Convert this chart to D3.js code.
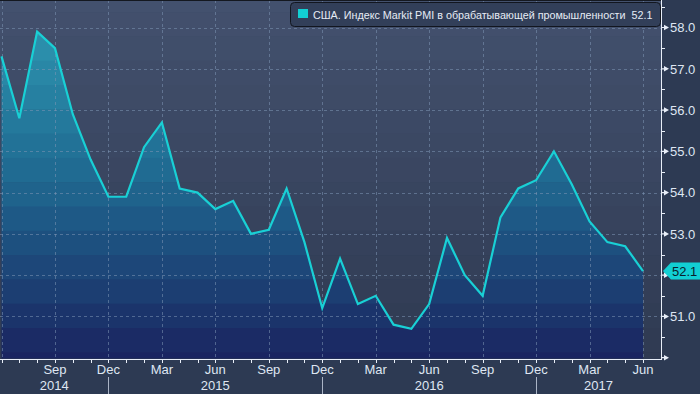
<!DOCTYPE html>
<html><head><meta charset="utf-8">
<script src="https://cdn.jsdelivr.net/npm/d3@7"></script>
<style>html,body{margin:0;padding:0;background:#2d3a53;}svg{display:block;}</style>
</head><body>
<svg id="c" width="700" height="394"></svg>
<script>
const months = ["2014-06","2014-07","2014-08","2014-09","2014-10","2014-11","2014-12",
"2015-01","2015-02","2015-03","2015-04","2015-05","2015-06","2015-07","2015-08","2015-09","2015-10","2015-11","2015-12",
"2016-01","2016-02","2016-03","2016-04","2016-05","2016-06","2016-07","2016-08","2016-09","2016-10","2016-11","2016-12",
"2017-01","2017-02","2017-03","2017-04","2017-05","2017-06"];
const pmi = [57.3,55.8,57.9,57.5,55.9,54.8,53.9,
53.9,55.1,55.7,54.1,54.0,53.6,53.8,53.0,53.1,54.1,52.8,51.2,
52.4,51.3,51.5,50.8,50.7,51.3,52.9,52.0,51.5,53.4,54.1,54.3,
55.0,54.2,53.3,52.8,52.7,52.1];
const monthNames = {"03":"Mar","06":"Jun","09":"Sep","12":"Dec"};
const years = ["2014","2015","2016","2017"];
const yTicks = [50,51,52,53,54,55,56,57,58];
const yLabelTicks = [51,53,54,55,56,57,58];
const yMinor = [50.5,51.5,52.5,53.5,54.5,55.5,56.5,57.5,58.5];
const seriesName = "США. Индекс Markit PMI в обрабатывающей промышленности";
const lastValue = pmi[pmi.length-1];

const svg = d3.select("#c");
const W = 700, H = 394;
const plotR = 661, plotB = 358.5;
const x = d3.scalePoint().domain(months).range([1.5, 643]);
const y = d3.scaleLinear().domain([50, 58]).range([357.7, 27.5]);

svg.append("rect").attr("width",W).attr("height",H).attr("fill","#2d3a53");

// banded backgrounds
const bandH = 24.3;
const bands = [];
for (let b = 328 - bandH*14; b < plotB; b += bandH) bands.push([Math.max(0,b), Math.min(plotB, b+bandH)]);
const bgCol = d3.scaleLinear().domain([0, plotB]).range(["#43516e","#2f3a52"]).interpolate(d3.interpolateRgb);
const fillCol = d3.scaleLinear().domain([0, 180, plotB]).range(["#2f9cb5","#1f6890","#1a2460"]).interpolate(d3.interpolateRgb);

svg.append("g").selectAll("rect").data(bands).join("rect")
  .attr("x",0).attr("width",plotR).attr("y",d=>d[0]).attr("height",d=>d[1]-d[0]+0.5)
  .attr("fill",d=>bgCol((d[0]+d[1])/2));

const area = d3.area().x((d,i)=>x(months[i])).y0(plotB).y1(d=>y(d));
svg.append("clipPath").attr("id","ac").append("path").attr("d", area(pmi));
svg.append("g").attr("clip-path","url(#ac)").selectAll("rect").data(bands).join("rect")
  .attr("x",0).attr("width",plotR).attr("y",d=>d[0]).attr("height",d=>d[1]-d[0]+0.5)
  .attr("fill",d=>fillCol((d[0]+d[1])/2));

// grid
const gridCol = "rgba(125,150,180,0.55)";
const g = svg.append("g");
g.selectAll("line.h").data(yTicks.filter(v=>v>50)).join("line")
  .attr("x1",0).attr("x2",plotR).attr("y1",d=>Math.round(y(d))+0.5).attr("y2",d=>Math.round(y(d))+0.5)
  .attr("stroke",gridCol).attr("stroke-dasharray","3,3");
const gridMonths = months.filter(m=>monthNames[m.slice(5)]);
g.selectAll("line.v").data(gridMonths).join("line")
  .attr("x1",d=>Math.round(x(d))+0.5).attr("x2",d=>Math.round(x(d))+0.5).attr("y1",0).attr("y2",plotB)
  .attr("stroke",gridCol).attr("stroke-dasharray","3,3");

// top dark line
svg.append("line").attr("x1",0).attr("x2",plotR).attr("y1",0.5).attr("y2",0.5).attr("stroke","#141820");

// line
const line = d3.line().x((d,i)=>x(months[i])).y(d=>y(d));
svg.append("path").attr("d", line(pmi)).attr("fill","none").attr("stroke","#19d0d5").attr("stroke-width",2.2).attr("stroke-linejoin","miter");

// x axis
const ax = svg.append("g");
ax.append("line").attr("x1",0).attr("x2",plotR+1).attr("y1",359.5).attr("y2",359.5).attr("stroke","#e8eef8");
ax.selectAll("line.t").data(months).join("line")
  .attr("x1",d=>Math.round(x(d))+0.5).attr("x2",d=>Math.round(x(d))+0.5).attr("y1",359.5).attr("y2",363)
  .attr("stroke","#e8eef8");
const font = "'Liberation Sans', Arial, sans-serif";
ax.selectAll("text.m").data(gridMonths.filter(d=>x(d)>20)).join("text")
  .attr("x",d=>x(d)).attr("y",374).attr("text-anchor","middle")
  .attr("font-family",font).attr("font-size",13).attr("fill","#dfe6f2")
  .text(d=>monthNames[d.slice(5)]);
const decs = months.filter(m=>m.slice(5)==="12");
ax.selectAll("line.sep").data(decs).join("line")
  .attr("x1",d=>Math.round(x(d))+0.5).attr("x2",d=>Math.round(x(d))+0.5).attr("y1",377).attr("y2",394)
  .attr("stroke","#aab4c6");
const seps = [0, ...decs.map(d=>x(d)), plotR];
ax.selectAll("text.y").data(years).join("text")
  .attr("x",(d,i)=>(seps[i]+seps[i+1])/2).attr("y",390).attr("text-anchor","middle")
  .attr("font-family",font).attr("font-size",13).attr("fill","#dfe6f2")
  .text(d=>d);

// y axis
const ay = svg.append("g");
ay.append("line").attr("x1",plotR+0.5).attr("x2",plotR+0.5).attr("y1",0).attr("y2",360).attr("stroke","#e8eef8");
ay.selectAll("path.tk").data(yTicks).join("path")
  .attr("d",d=>{const yy=y(d);return `M${plotR},${yy-0.6}L${plotR+3},${yy-0.6}L${plotR+3},${yy-2.8}L${plotR+8},${yy}L${plotR+3},${yy+2.8}L${plotR+3},${yy+0.6}L${plotR},${yy+0.6}Z`;})
  .attr("fill","#e8eef8");
ay.selectAll("line.mn").data(yMinor).join("line")
  .attr("x1",plotR).attr("x2",plotR+4).attr("y1",d=>Math.round(y(d))+0.5).attr("y2",d=>Math.round(y(d))+0.5)
  .attr("stroke","#e8eef8");
ay.selectAll("text").data(yLabelTicks).join("text")
  .attr("x",670).attr("y",d=>y(d)+4.8)
  .attr("font-family",font).attr("font-size",13).attr("fill","#dfe6f2")
  .text(d=>d.toFixed(1));

// last value marker
const ly = y(lastValue);
svg.append("path").attr("d",`M663,${ly}L671,${ly-8.5}L700,${ly-8.5}L700,${ly+8.5}L671,${ly+8.5}Z`)
  .attr("fill","#12cfd3");
svg.append("text").attr("x",672).attr("y",ly+4.8).attr("font-family",font).attr("font-size",13)
  .attr("fill","#0a1e2c").text(lastValue.toFixed(1));

// legend
const lg = svg.append("g");
lg.append("rect").attr("x",290.5).attr("y",2.5).attr("width",370).attr("height",24).attr("rx",4)
  .attr("fill","#323f59").attr("stroke","#12161f");
lg.append("rect").attr("x",298).attr("y",9).attr("width",10).attr("height",9).attr("fill","#12cfd3");
const lt = lg.append("text").attr("x",313).attr("y",19).attr("font-family",font).attr("font-size",11)
  .attr("fill","#e6ecf5").text(seriesName + "  " + lastValue.toFixed(1)).attr("xml:space","preserve");
const natural = lt.node().getComputedTextLength();
if (natural > 340) lt.attr("font-size", 11*340/natural);
else lt.attr("textLength",340).attr("lengthAdjust","spacing");
</script>
</body></html>
